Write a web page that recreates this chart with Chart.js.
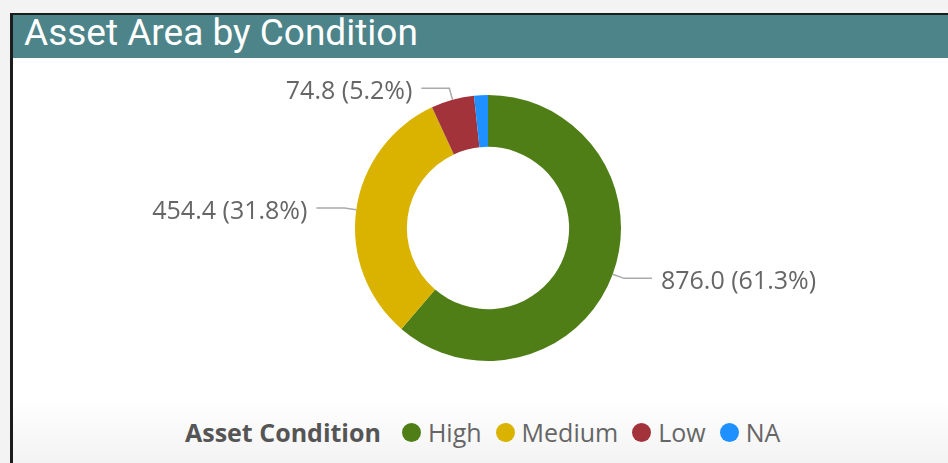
<!DOCTYPE html>
<html>
<head>
<meta charset="utf-8">
<script src="https://cdn.jsdelivr.net/npm/chart.js@4.4.1/dist/chart.umd.min.js"></script>
<style>
  body { margin: 0; width: 948px; height: 463px; background: #f3f3f3; overflow: hidden; position: relative; font-family: "Open Sans", sans-serif; }
  #panel { position: absolute; left: 10px; top: 13px; right: 0; bottom: 0; border-left: 3px solid #1c1c1c; border-top: 2px solid #1c1c1c;
           background: linear-gradient(#ffffff 0px, #ffffff 385px, #f3f3f3 100%); }
  #header { height: 43px; background: #4d8489; color: #fff; font: 37px Roboto, sans-serif; line-height: 36px; padding-left: 11px; white-space: nowrap; }
  #chartBox { position: absolute; left: 0; top: 58px; width: 948px; height: 340px; }
  #legend { position: absolute; left: 185px; top: 416px; height: 32px; display: flex; align-items: center; font-size: 25px; color: #666; white-space: nowrap; }
  #legend .title { font-weight: bold; color: #555; margin-right: 21px; }
  #legend .item { display: flex; align-items: center; margin-right: 14px; }
  #legend .dot { width: 19px; height: 19px; border-radius: 50%; margin-right: 7px; }
</style>
</head>
<body>
<div id="panel"><div id="header">Asset Area by Condition</div></div>
<div id="chartBox"><canvas id="donut"></canvas></div>
<div id="legend"></div>
<script>
const categories = ['High', 'Medium', 'Low', 'NA'];
const values = [876.0, 454.4, 74.8, 24.0];
const colors = ['#4f7e17', '#d9b300', '#a3333b', '#1e90ff'];
const legendTitle = 'Asset Condition';

// legend built from the same arrays
const legend = document.getElementById('legend');
legend.innerHTML = '<span class="title">' + legendTitle + '</span>' +
    categories.map((c, i) => '<span class="item"><span class="dot" style="background:' + colors[i] + '"></span>' + c + '</span>').join('');

const total = values.reduce((a, b) => a + b, 0);

// outside labels with leader lines
const leaderLabels = {
    id: 'leaderLabels',
    afterDatasetsDraw(chart) {
        const ctx = chart.ctx;
        const meta = chart.getDatasetMeta(0);
        ctx.save();
        ctx.font = '25px "Open Sans", sans-serif';
        ctx.fillStyle = '#666';
        ctx.strokeStyle = '#aaa';
        ctx.lineWidth = 1.5;
        ctx.textBaseline = 'middle';
        meta.data.forEach((arc, i) => {
            const pct = values[i] / total * 100;
            if (pct < 3) return;
            const p = arc.getProps(['x', 'y', 'startAngle', 'endAngle', 'outerRadius'], true);
            const mid = (p.startAngle + p.endAngle) / 2;
            const cos = Math.cos(mid), sin = Math.sin(mid);
            const x0 = p.x + cos * p.outerRadius, y0 = p.y + sin * p.outerRadius;
            const x1 = p.x + cos * (p.outerRadius + 12), y1 = p.y + sin * (p.outerRadius + 12);
            const dir = cos >= 0 ? 1 : -1;
            const x2 = x1 + dir * 28;
            ctx.beginPath();
            ctx.moveTo(x0, y0);
            ctx.lineTo(x1, y1);
            ctx.lineTo(x2, y1);
            ctx.stroke();
            const text = values[i].toFixed(1) + ' (' + pct.toFixed(1) + '%)';
            ctx.textAlign = dir > 0 ? 'left' : 'right';
            ctx.fillText(text, x2 + dir * 9, y1 + 4);
        });
        ctx.restore();
    }
};

new Chart(document.getElementById('donut').getContext('2d'), {
    type: 'doughnut',
    data: {
        labels: categories,
        datasets: [{
            data: values,
            backgroundColor: colors,
            borderWidth: 0
        }]
    },
    options: {
        responsive: true,
        maintainAspectRatio: false,
        animation: false,
        cutout: '61%',
        layout: { padding: { left: 28, top: 37, bottom: 37 } },
        plugins: {
            legend: { display: false },
            tooltip: { enabled: false }
        }
    },
    plugins: [leaderLabels]
});
</script>
</body>
</html>
